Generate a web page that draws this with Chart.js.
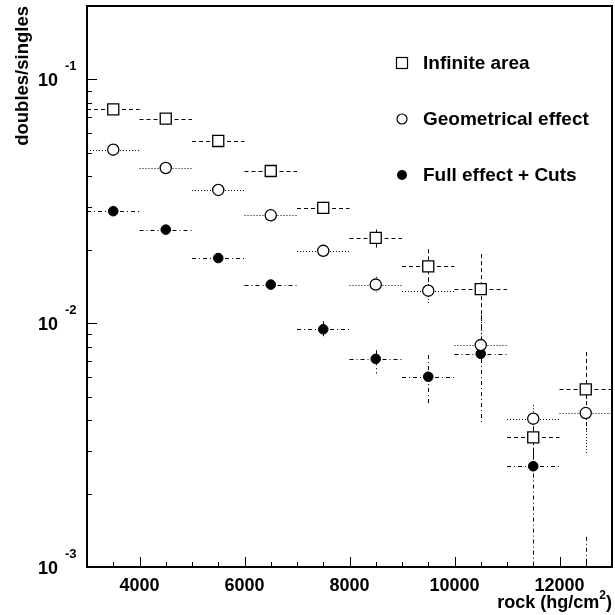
<!DOCTYPE html>
<html>
<head>
<meta charset="utf-8">
<script src="https://cdn.jsdelivr.net/npm/chart.js@4.4.0/dist/chart.umd.min.js"></script>
<style>
  html, body { margin: 0; padding: 0; background: #fff; }
  #wrap { width: 615px; height: 615px; }
</style>
</head>
<body>
<div id="wrap"><canvas id="ratioChart" width="615" height="615"></canvas></div>
<script>
/* doubles/singles vs rock depth, three selections, log y */

// bin centres (hg/cm2), each bin is +-500 wide
const depths = [3500, 4500, 5500, 6500, 7500, 8500, 9500, 10500, 11500, 12500];
const binHalf = 500;

// Infinite area (open squares)
const infVal = [0.0753, 0.0690, 0.0559, 0.0421, 0.0297, 0.0224, 0.0171, 0.0138, 0.00340, 0.00535];
const infLo  = [0.0735, 0.0673, 0.0543, 0.0405, 0.0278, 0.0201, 0.0149, 0.0094, 0.00275, 0.00364];
const infHi  = [0.0772, 0.0707, 0.0576, 0.0438, 0.0315, 0.0242, 0.0201, 0.0192, 0.00400, 0.00762];

// Geometrical effect (open circles)
const geoVal = [0.0515, 0.0433, 0.0352, 0.0277, 0.0198, 0.0144, 0.0136, 0.00813, 0.00406, 0.00428];
const geoLo  = [0.0503, 0.0422, 0.0342, 0.0268, 0.0189, 0.0134, 0.0121, 0.00750, 0.00347, 0.00288];
const geoHi  = [0.0527, 0.0444, 0.0362, 0.0286, 0.0207, 0.0155, 0.0153, 0.00940, 0.00461, 0.00507];

// Full effect + Cuts (filled circles); last bin sits below the axis
const fullVal = [0.0288, 0.0242, 0.0185, 0.0144, 0.00944, 0.00714, 0.00603, 0.00749, 0.00259, 0.00070];
const fullLo  = [0.0281, 0.0236, 0.0180, 0.0139, 0.00860, 0.00622, 0.00461, 0.00389, 0.00090, 0.00050];
const fullHi  = [0.0296, 0.0249, 0.0191, 0.0150, 0.01019, 0.00775, 0.00740, 0.01080, 0.00330, 0.00133];

const xTickLabels = [4000, 6000, 8000, 10000, 12000];
const yDecades = [0.001, 0.01, 0.1];
const yDecadeExp = ['-3', '-2', '-1'];
const legendLabels = ['Infinite area', 'Geometrical effect', 'Full effect + Cuts'];

const FONT = "'Liberation Sans', Arial, Helvetica, sans-serif";

const series = [
  { val: infVal,  lo: infLo,  hi: infHi,  dash: [4, 3] },
  { val: geoVal,  lo: geoLo,  hi: geoHi,  dash: [1, 2] },
  { val: fullVal, lo: fullLo, hi: fullHi, dash: [4, 3, 1, 3] }
];

const toPts = (vals) => depths.map((d, i) => ({ x: d, y: vals[i] }));

// error bars under the markers, frame / ticks / labels / legend on top
const decorPlugin = {
  id: 'decor',
  beforeDatasetsDraw(chart) {
    const { ctx, chartArea: a, scales: { x, y } } = chart;
    ctx.save();
    ctx.beginPath();
    ctx.rect(a.left, a.top, a.right - a.left, a.bottom - a.top);
    ctx.clip();
    ctx.strokeStyle = '#000';
    ctx.lineWidth = 1;
    series.forEach(s => {
      ctx.setLineDash(s.dash);
      depths.forEach((d, i) => {
        const px = Math.round(x.getPixelForValue(d)) + 0.5;
        const py = Math.round(y.getPixelForValue(s.val[i])) + 0.5;
        ctx.beginPath();
        ctx.moveTo(x.getPixelForValue(d - binHalf), py);
        ctx.lineTo(x.getPixelForValue(d + binHalf), py);
        ctx.moveTo(px, y.getPixelForValue(s.hi[i]));
        ctx.lineTo(px, y.getPixelForValue(s.lo[i]));
        ctx.stroke();
      });
    });
    ctx.restore();
  },
  afterDraw(chart) {
    const { ctx, chartArea: a, scales: { x, y } } = chart;
    ctx.save();
    ctx.strokeStyle = '#000';
    ctx.fillStyle = '#000';
    ctx.setLineDash([]);

    // frame
    ctx.lineWidth = 2;
    ctx.strokeRect(a.left, a.top, a.right - a.left, a.bottom - a.top);

    // x ticks (inside, along bottom)
    ctx.lineWidth = 1;
    ctx.beginPath();
    for (let v = 3500; v < x.max; v += 500) {
      const px = Math.round(x.getPixelForValue(v)) + 0.5;
      const len = v % 2000 === 0 ? 10 : 5;
      ctx.moveTo(px, a.bottom);
      ctx.lineTo(px, a.bottom - len);
    }
    // y ticks (inside, along left)
    for (let e = -3; e <= 0; e++) {
      for (let k = 1; k <= 9; k++) {
        const v = k * Math.pow(10, e);
        if (v < y.min || v > y.max) continue;
        const py = Math.round(y.getPixelForValue(v)) + 0.5;
        const len = k === 1 ? 10 : 5;
        ctx.moveTo(a.left, py);
        ctx.lineTo(a.left + len, py);
      }
    }
    ctx.stroke();

    // x tick labels
    ctx.font = `bold 18px ${FONT}`;
    ctx.textAlign = 'center';
    ctx.textBaseline = 'middle';
    xTickLabels.forEach(v => ctx.fillText(String(v), x.getPixelForValue(v), 586));

    // y tick labels 10^n
    yDecades.forEach((v, i) => {
      const py = y.getPixelForValue(v);
      ctx.font = `bold 18px ${FONT}`;
      ctx.textAlign = 'right';
      ctx.fillText('10', 58, py + 2);
      ctx.font = `bold 13px ${FONT}`;
      ctx.textAlign = 'left';
      ctx.fillText(yDecadeExp[i], 65, py - 13);
    });

    // axis titles
    ctx.font = `bold 18px ${FONT}`;
    ctx.textAlign = 'right';
    const sup = '2', tail = ')';
    const tailW = ctx.measureText(tail).width;
    ctx.font = `bold 12px ${FONT}`;
    const supW = ctx.measureText(sup).width;
    ctx.font = `bold 18px ${FONT}`;
    const xr = 612;
    ctx.fillText(tail, xr, 603);
    ctx.font = `bold 12px ${FONT}`;
    ctx.fillText(sup, xr - tailW, 596);
    ctx.font = `bold 18px ${FONT}`;
    ctx.fillText('rock (hg/cm', xr - tailW - supW, 603);

    ctx.save();
    ctx.translate(23, 6);
    ctx.rotate(-Math.PI / 2);
    ctx.textAlign = 'right';
    ctx.font = `bold 18.5px ${FONT}`;
    ctx.fillText('doubles/singles', 0, 0);
    ctx.restore();

    // legend
    const lx = 402, ly = [63, 119, 175];
    ctx.lineWidth = 1.2;
    ctx.fillStyle = '#fff';
    ctx.fillRect(lx - 5.5, ly[0] - 5.5, 11, 11);
    ctx.strokeRect(lx - 5.5, ly[0] - 5.5, 11, 11);
    ctx.beginPath();
    ctx.arc(lx, ly[1], 5, 0, Math.PI * 2);
    ctx.fill();
    ctx.stroke();
    ctx.fillStyle = '#000';
    ctx.beginPath();
    ctx.arc(lx, ly[2], 5, 0, Math.PI * 2);
    ctx.fill();
    ctx.font = `bold 19px ${FONT}`;
    ctx.textAlign = 'left';
    legendLabels.forEach((t, i) => ctx.fillText(t, 423, ly[i] + 1));

    ctx.restore();
  }
};

new Chart(document.getElementById('ratioChart'), {
  type: 'scatter',
  data: {
    datasets: [
      {
        label: legendLabels[0],
        data: toPts(infVal),
        pointStyle: 'rect',
        pointRadius: 7.8,
        pointBackgroundColor: '#fff',
        pointBorderColor: '#000',
        pointBorderWidth: 1.3
      },
      {
        label: legendLabels[1],
        data: toPts(geoVal),
        pointStyle: 'circle',
        pointRadius: 5.6,
        pointBackgroundColor: '#fff',
        pointBorderColor: '#000',
        pointBorderWidth: 1.3
      },
      {
        label: legendLabels[2],
        data: toPts(fullVal),
        pointStyle: 'circle',
        pointRadius: 4.8,
        pointBackgroundColor: '#000',
        pointBorderColor: '#000',
        pointBorderWidth: 1
      }
    ]
  },
  options: {
    responsive: false,
    animation: false,
    devicePixelRatio: 1,
    layout: { autoPadding: false, padding: { left: 87, right: 3, top: 6, bottom: 48 } },
    plugins: { legend: { display: false }, tooltip: { enabled: false } },
    scales: {
      x: { type: 'linear', min: 3000, max: 13000, display: false },
      y: { type: 'logarithmic', min: 0.001, max: 0.2, display: false }
    }
  },
  plugins: [decorPlugin]
});
</script>
</body>
</html>
